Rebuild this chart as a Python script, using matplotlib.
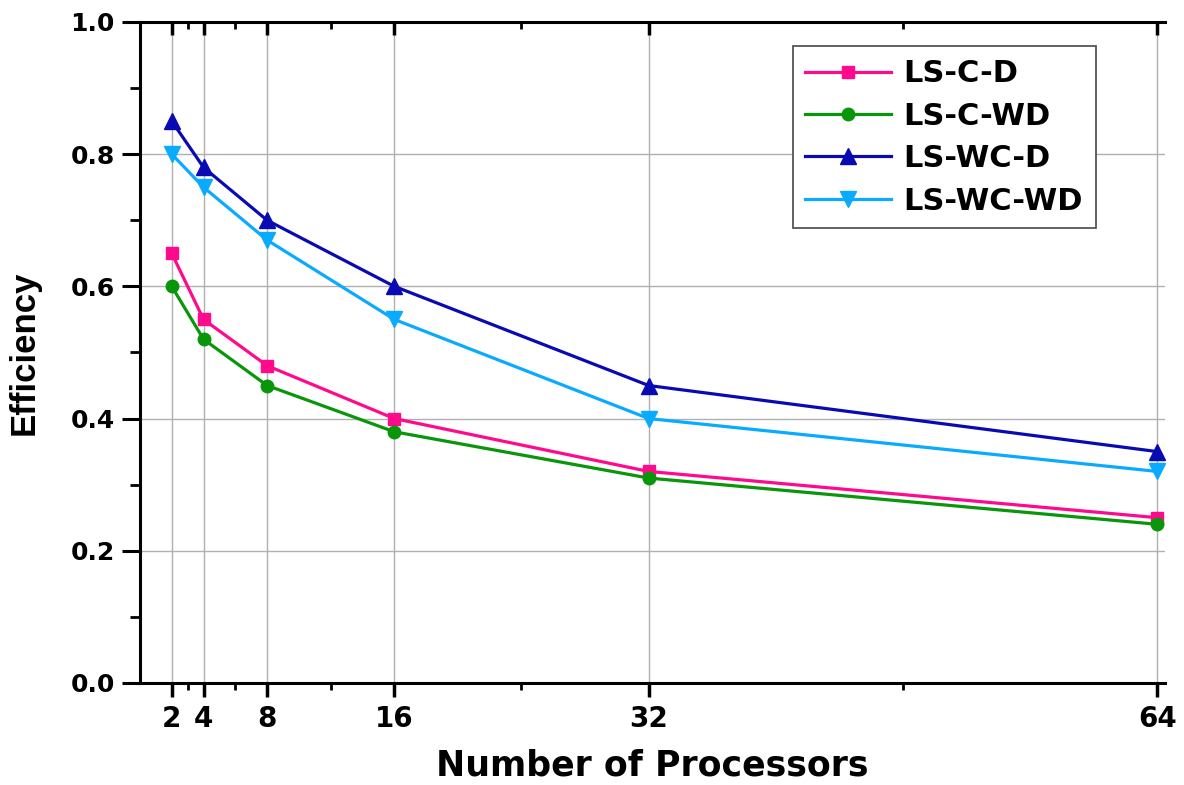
import matplotlib
matplotlib.use('Agg')
from matplotlib import pyplot as plt

# processors and efficiency values
procs = [2, 4, 8, 16, 32, 64]
ls_c_d = [0.65, 0.55, 0.48, 0.40, 0.32, 0.25]
ls_c_wd = [0.60, 0.52, 0.45, 0.38, 0.31, 0.24]
ls_wc_d = [0.85, 0.78, 0.70, 0.60, 0.45, 0.35]
ls_wc_wd = [0.80, 0.75, 0.67, 0.55, 0.40, 0.32]
minor_x = [3, 6, 12, 24, 48]

plt.rcParams['font.family'] = ['DejaVu Sans']
plt.rcParams['font.weight'] = 'bold'

fig = plt.figure(figsize=(11.84, 7.85), dpi=100)
ax = fig.add_axes([0.1182, 0.130, 0.866, 0.842])

ax.plot(procs, ls_c_d, color='#ff0a8c', marker='s', markersize=9, lw=2.3, label='LS-C-D', zorder=3)
ax.plot(procs, ls_c_wd, color='#0a960a', marker='o', markersize=9, lw=2.3, label='LS-C-WD', zorder=3)
ax.plot(procs, ls_wc_d, color='#0a0ab4', marker='^', markersize=11, lw=2.3, label='LS-WC-D', zorder=3)
ax.plot(procs, ls_wc_wd, color='#0aaaff', marker='v', markersize=11, lw=2.3, label='LS-WC-WD', zorder=3)

ax.set_xlim(0, 64.5)
ax.set_ylim(0, 1.0)
ax.set_xticks(procs)
ax.set_xticks(minor_x, minor=True)
ax.set_yticks([0.0, 0.2, 0.4, 0.6, 0.8, 1.0])
ax.set_yticks([0.1, 0.3, 0.5, 0.7, 0.9], minor=True)
ax.set_yticklabels(['0.0', '0.2', '0.4', '0.6', '0.8', '1.0'])

ax.grid(True, which='major', color='#b0b0b0', lw=1.0, zorder=0)

ax.spines['right'].set_visible(False)
for s in ['left', 'bottom', 'top']:
    ax.spines[s].set_linewidth(2.2)

ax.tick_params(axis='x', which='major', direction='out', length=10, width=2.5,
               labelsize=20, top=True, pad=6)
ax.tick_params(axis='x', which='minor', direction='out', length=5, width=2, top=True)
ax.tick_params(axis='x', which='both', labeltop=False)
for t in ax.xaxis.get_major_ticks() + ax.xaxis.get_minor_ticks():
    t.tick2line.set_marker(3)  # top ticks pointing inward
for t in ax.xaxis.get_major_ticks():
    t.tick2line.set_markersize(9)
for t in ax.xaxis.get_minor_ticks():
    t.tick2line.set_markersize(5)

ax.tick_params(axis='y', which='major', direction='out', length=13, width=2.2, labelsize=18, right=False, pad=5)
ax.tick_params(axis='y', which='minor', direction='out', length=7, width=2, right=False)

ax.set_xlabel('Number of Processors', fontsize=25, fontweight='bold', labelpad=11)
ax.set_ylabel('Efficiency', fontsize=25, fontweight='bold', family=['Liberation Sans'])
ax.yaxis.set_label_coords(-0.097, 0.5)

leg = ax.legend(loc='upper right', bbox_to_anchor=(0.932, 0.963), fontsize=22, handlelength=2.8,
                fancybox=False, framealpha=1, edgecolor='#555555', borderpad=0.42,
                labelspacing=0.44, handletextpad=0.4, borderaxespad=0)
leg.get_frame().set_linewidth(1.3)

fig.savefig('out.png', dpi=100)
